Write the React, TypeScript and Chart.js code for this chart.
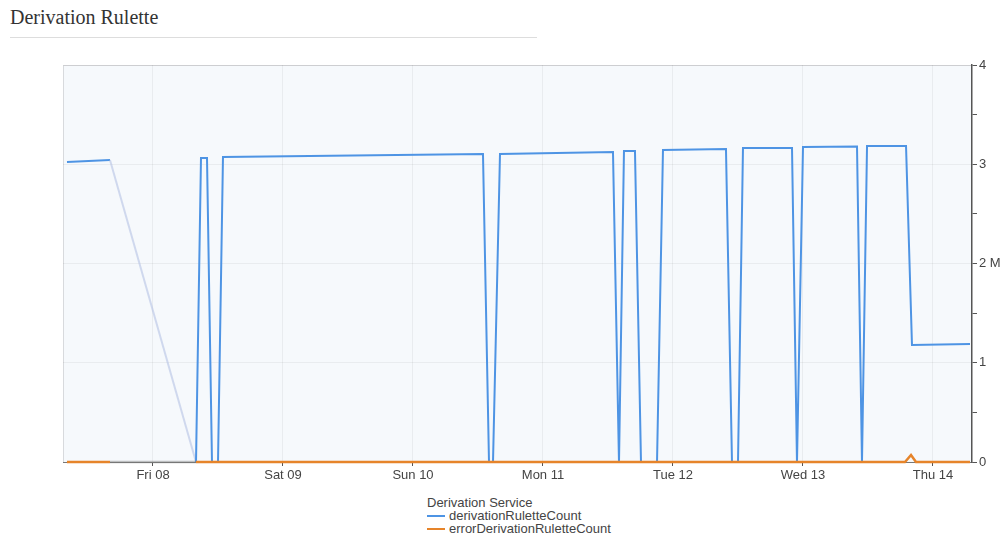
import React, { useEffect, useRef } from "react";
import { Chart, registerables } from "chart.js";

Chart.register(...registerables);

// x values: hours since Fri 08 00:00 ; y values: counts
const dayTicks = [0, 24, 48, 72, 96, 120, 144];
const dayLabels = ["Fri 08", "Sat 09", "Sun 10", "Mon 11", "Tue 12", "Wed 13", "Thu 14"];

const derivationHours = [
  -15.88, -7.94, 0, 7.94, 8.86, 9.97, 10.89, 12.0, 12.92, 60.92, 62.03, 62.77, 64.06,
  84.92, 86.03, 86.95, 88.98, 90.09, 93.05, 94.15, 105.78, 106.89, 108.0, 108.92,
  117.97, 118.89, 120.0, 129.97, 130.89, 131.82, 139.02, 140.12, 150.83,
];
const derivationValues = [
  3023000, 3043000, null, 0, 3063000, 3063000, 0, 0, 3073000, 3103000, 0, 0, 3103000,
  3123000, 0, 3134000, 3134000, 0, 0, 3144000, 3154000, 0, 0, 3164000,
  3164000, 0, 3174000, 3179000, 0, 3184000, 3184000, 1179000, 1189000,
];

const errorHours = [-15.88, -7.94, 0, 7.94, 138.83, 139.94, 140.86, 150.83];
const errorValues = [0, 0, null, 0, 0, 70000, 0, 0];

const yTicksMajor = [0, 1000000, 2000000, 3000000, 4000000];

const BLUE = "rgb(78,148,228)";
const ORANGE = "rgb(230,132,42)";

const toPoints = (xs: number[], ys: (number | null)[]) => xs.map((x, i) => ({ x, y: ys[i] }));

const bgPlugin = {
  id: "plotBg",
  beforeDraw(chart: any) {
    const { ctx, chartArea } = chart;
    if (!chartArea) return;
    ctx.save();
    ctx.fillStyle = "rgb(246,249,252)";
    ctx.fillRect(chartArea.left, chartArea.top, chartArea.right - chartArea.left, chartArea.bottom - chartArea.top);
    ctx.strokeStyle = "rgba(0,0,0,0.12)";
    ctx.lineWidth = 1;
    ctx.beginPath();
    ctx.moveTo(chartArea.left + 0.5, chartArea.bottom);
    ctx.lineTo(chartArea.left + 0.5, chartArea.top + 0.5);
    ctx.lineTo(chartArea.right, chartArea.top + 0.5);
    ctx.stroke();
    ctx.restore();
  },
};

const skipped = (ctx: any, value: any) => (ctx.p0.skip || ctx.p1.skip ? value : undefined);

const tickFont = { family: "'Liberation Sans', Arial, sans-serif", size: 13 };

export default function App() {
  const ref = useRef<HTMLCanvasElement | null>(null);

  useEffect(() => {
    if (!ref.current) return;
    const chart = new Chart(ref.current, {
      type: "line",
      data: {
        datasets: [
          {
            label: "errorDerivationRuletteCount",
            data: toPoints(errorHours, errorValues),
            borderColor: ORANGE,
            borderWidth: 2.5,
            pointRadius: 0,
            tension: 0,
            spanGaps: true,
            clip: 4,
            order: 0,
            segment: { borderColor: (c: any) => skipped(c, "rgba(120,120,120,0.45)") },
          },
          {
            label: "derivationRuletteCount",
            data: toPoints(derivationHours, derivationValues),
            borderColor: BLUE,
            borderWidth: 2,
            pointRadius: 0,
            tension: 0,
            spanGaps: true,
            clip: 4,
            order: 1,
            segment: { borderColor: (c: any) => skipped(c, "rgba(175,190,225,0.55)") },
          },
        ] as any,
      },
      options: {
        animation: false,
        responsive: true,
        maintainAspectRatio: false,
        layout: { padding: { left: 63, top: 15, right: 0, bottom: 0 } },
        plugins: {
          legend: { display: false },
          tooltip: { enabled: false },
        },
        scales: {
          x: {
            type: "linear",
            min: -16.615,
            max: 151.2,
            afterBuildTicks: (axis: any) => {
              axis.ticks = dayTicks.map((v) => ({ value: v }));
            },
            afterFit: (axis: any) => {
              axis.height = 23;
            },
            ticks: {
              autoSkip: false,
              maxRotation: 0,
              padding: 2,
              color: "#444",
              font: tickFont,
              callback: (v: any) => {
                const i = dayTicks.indexOf(Number(v));
                return i >= 0 ? dayLabels[i] : "";
              },
            },
            grid: {
              color: "rgba(0,0,0,0.05)",
              tickColor: "#555",
              tickLength: 4,
            },
            border: { color: "#777", width: 1 },
          },
          y: {
            type: "linear",
            position: "right",
            min: 0,
            max: 4000000,
            afterFit: (axis: any) => {
              axis.width = 28;
            },
            ticks: {
              stepSize: 500000,
              padding: 2,
              color: "#444",
              font: tickFont,
              callback: (v: any) => {
                const n = Number(v);
                if (!yTicksMajor.includes(n)) return "";
                const m = n / 1000000;
                return m === 2 ? "2 M" : String(m);
              },
            },
            grid: {
              color: (c: any) =>
                c.tick && yTicksMajor.includes(c.tick.value) ? "rgba(0,0,0,0.05)" : "rgba(0,0,0,0)",
              tickColor: "#555",
              tickLength: 5,
            },
            border: { color: "#555", width: 1.5 },
          },
        },
      },
      plugins: [bgPlugin],
    });
    return () => chart.destroy();
  }, []);

  const legendItem = (color: string, text: string) => (
    <div style={{ display: "flex", alignItems: "center", height: 13 }}>
      <span style={{ display: "inline-block", width: 18, height: 2, background: color, marginRight: 4 }} />
      <span>{text}</span>
    </div>
  );

  return (
    <div style={{ position: "absolute", left: 0, top: 0, width: 1000, height: 535, background: "#fff", overflow: "hidden" }}>
      <div
        style={{
          position: "absolute",
          left: 10,
          top: 5,
          fontFamily: "'Liberation Serif', 'Times New Roman', serif",
          fontSize: 20,
          color: "#333",
          lineHeight: "24px",
        }}
      >
        Derivation Rulette
      </div>
      <div style={{ position: "absolute", left: 10, top: 37, width: 527, height: 1, background: "#ddd" }} />
      <div style={{ position: "absolute", left: 0, top: 50, width: 1000, height: 435 }}>
        <canvas ref={ref} />
      </div>
      <div
        style={{
          position: "absolute",
          left: 427,
          top: 496,
          fontFamily: "'Liberation Sans', Arial, sans-serif",
          fontSize: 13,
          color: "#444",
          lineHeight: "13px",
        }}
      >
        <div style={{ height: 13 }}>Derivation Service</div>
        {legendItem(BLUE, "derivationRuletteCount")}
        {legendItem(ORANGE, "errorDerivationRuletteCount")}
      </div>
    </div>
  );
}
